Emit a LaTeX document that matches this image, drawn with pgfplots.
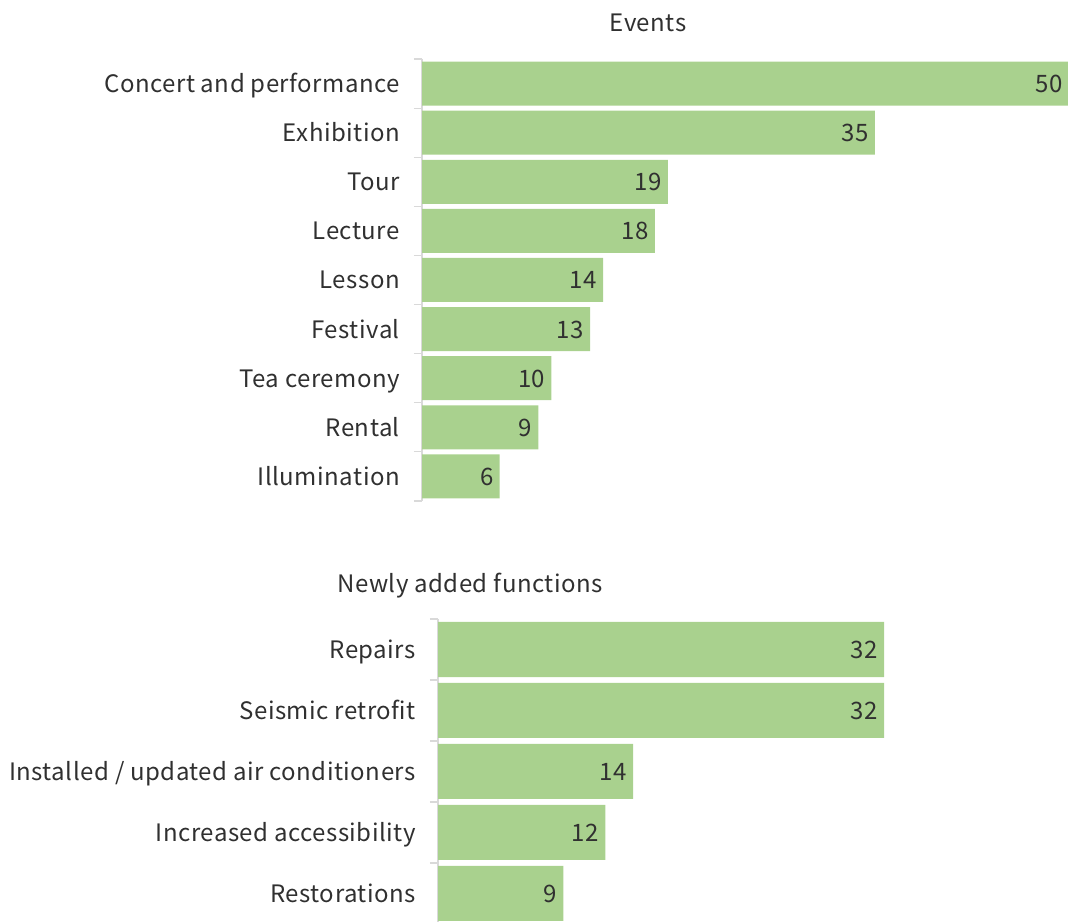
\documentclass[border=0pt]{standalone}
\usepackage{fontspec}
\setmainfont{Noto Sans CJK JP}[LetterSpace=2]
\usepackage{pgfplots}
\pgfplotsset{compat=1.18}
\definecolor{barg}{HTML}{A9D18E}
\definecolor{axgray}{HTML}{D9D9D9}
\definecolor{txt}{HTML}{303030}
\newcommand{\lf}{\fontsize{24}{28}\selectfont}
\pgfplotsset{
  mybars/.style={
    scale only axis, xbar, xmin=0,
    y dir=reverse, enlarge x limits=false, enlarge y limits=false,
    axis x line=none, axis y line*=left,
    y axis line style={-, draw=axgray, line width=1.2pt},
    major tick length=0pt, minor tick length=8pt, tick align=outside,
    minor tick style={draw=axgray, line width=1.2pt},
    yticklabel style={font=\lf, text=txt, anchor=base east, inner sep=0pt, xshift=-22pt, yshift=-9pt},
    nodes near coords,
    /pgf/number format/assume math mode=true,
    nodes near coords style={font=\lf, text=txt, anchor=base east, inner sep=0pt, xshift=-6pt, yshift=-9pt},
    clip=false,
  }
}
\begin{document}
\begin{tikzpicture}[x=1pt,y=1pt]
\path[use as bounding box] (0,0) rectangle (1068,921);
\clip (0,0) rectangle (1068,921);
\node[font=\lf, text=txt, anchor=base, inner sep=0pt] at (648,889) {Events};
\node[font=\lf, text=txt, anchor=base, inner sep=0pt] at (470,328) {Newly added functions};
\begin{axis}[mybars, at={(422pt,862pt)}, anchor=north west,
  width=647pt, height=442pt, xmax=50, ymin=-0.5, ymax=8.5, bar width=44pt,
  ytick={0,...,8}, minor ytick={-0.5,0.5,...,8.5},
  yticklabels={Concert and performance, Exhibition, Tour, Lecture, Lesson, Festival, Tea ceremony, Rental, Illumination}]
\addplot[fill=barg, draw=none] coordinates {(50,0) (35,1) (19,2) (18,3) (14,4) (13,5) (10,6) (9,7) (6,8)};
\end{axis}
\begin{axis}[mybars, at={(438pt,302pt)}, anchor=north west,
  width=557.6pt, height=305pt, xmax=40, ymin=-0.5, ymax=4.5, bar width=55pt,
  ytick={0,...,4}, minor ytick={-0.5,0.5,...,4.5},
  yticklabels={Repairs, Seismic retrofit, Installed / updated air conditioners, Increased accessibility, Restorations}]
\addplot[fill=barg, draw=none] coordinates {(32,0) (32,1) (14,2) (12,3) (9,4)};
\end{axis}
\end{tikzpicture}
\end{document}
